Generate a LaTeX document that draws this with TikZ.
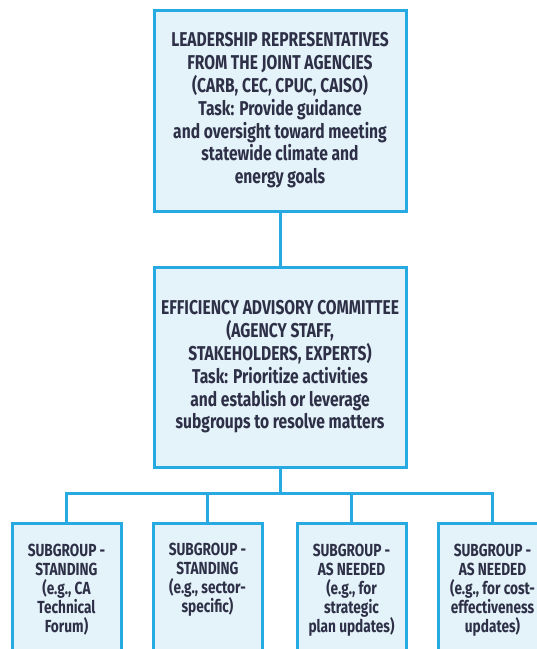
\documentclass[tikz,border=0pt]{standalone}
\usepackage{fontspec}
\setmainfont{Fira Sans}[FakeStretch=0.78]
\definecolor{edge}{HTML}{27AAE1}
\definecolor{boxfill}{HTML}{E4F2F9}
\definecolor{ink}{HTML}{2D3047}
\tikzset{
  orgbox/.style={draw=edge, fill=boxfill, line width=3pt, align=center, text=ink,
    font=\bfseries\fontsize{20}{22.8}\selectfont, inner sep=0pt},
  subbox/.style={orgbox, font=\bfseries\fontsize{17.5}{19}\selectfont,
    minimum width=109pt, minimum height=134pt},
  conn/.style={draw=edge, line width=3pt}
}
\begin{document}
\begin{tikzpicture}[x=1pt,y=-1pt]
\useasboundingbox (0,0) rectangle (537,649);
\clip (0,0) rectangle (537,649);
\node[orgbox, minimum width=252pt, minimum height=201pt] (top) at (280,110.5)
  {LEADERSHIP REPRESENTATIVES\\FROM THE JOINT AGENCIES\\(CARB, CEC, CPUC, CAISO)\\Task: Provide guidance\\and oversight toward meeting\\statewide climate and\\energy goals};
\node[orgbox, minimum width=252pt, minimum height=200pt] (mid) at (280,367)
  {EFFICIENCY ADVISORY COMMITTEE\\(AGENCY STAFF,\\STAKEHOLDERS, EXPERTS)\\Task: Prioritize activities\\and establish or leverage\\subgroups to resolve matters};
\node[subbox] (b1) at (66.5,590) {SUBGROUP -\\STANDING\\(e.g., CA\\Technical\\Forum)};
\node[subbox] (b2) at (207.5,590) {SUBGROUP -\\STANDING\\(e.g., sector-\\specific)\\\strut};
\node[subbox] (b3) at (351.5,590) {SUBGROUP -\\AS NEEDED\\(e.g., for\\strategic\\plan updates)};
\node[subbox] (b4) at (492.5,590) {SUBGROUP -\\AS NEEDED\\(e.g., for cost-\\effectiveness\\updates)};
\draw[conn] (top.south) -- (mid.north);
\draw[conn] (mid.south) -- ++(0,25) coordinate (j);
\draw[conn] (b1.north) |- (j) -| (b4.north);
\draw[conn] (b2.north) -- (b2.north |- j);
\draw[conn] (b3.north) -- (b3.north |- j);
\end{tikzpicture}
\end{document}
